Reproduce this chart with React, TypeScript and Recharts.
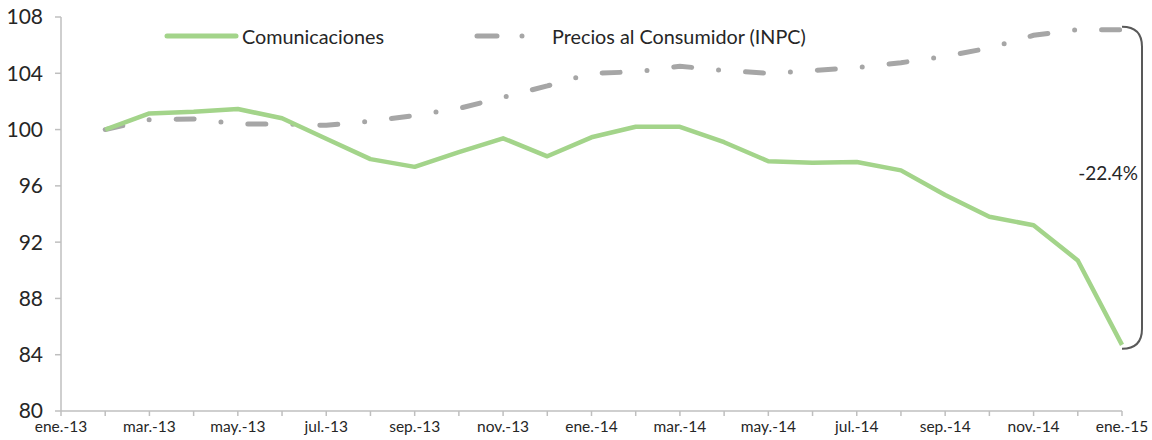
import React from 'react';
import { LineChart, Line, XAxis, YAxis, ReferenceLine } from 'recharts';

const months: string[] = [
  'ene.-13', 'feb.-13', 'mar.-13', 'abr.-13', 'may.-13', 'jun.-13', 'jul.-13', 'ago.-13', 'sep.-13', 'oct.-13', 'nov.-13', 'dic.-13',
  'ene.-14', 'feb.-14', 'mar.-14', 'abr.-14', 'may.-14', 'jun.-14', 'jul.-14', 'ago.-14', 'sep.-14', 'oct.-14', 'nov.-14', 'dic.-14',
  'ene.-15',
];

const comunicaciones: (number | null)[] = [
  null, 100.0, 101.15, 101.27, 101.46, 100.8, 99.35, 97.9, 97.35, 98.4, 99.38, 98.1,
  99.45, 100.2, 100.2, 99.1, 97.75, 97.65, 97.7, 97.1, 95.35, 93.8, 93.2, 90.7, 84.7,
];

const inpc: (number | null)[] = [
  null, 100.0, 100.7, 100.75, 100.4, 100.4, 100.3, 100.6, 101.0, 101.5, 102.3, 103.1,
  104.0, 104.1, 104.5, 104.2, 104.0, 104.2, 104.4, 104.75, 105.2, 105.8, 106.7, 107.1, 107.1,
];

const yTicks: number[] = [80, 84, 88, 92, 96, 100, 104, 108];
const seriesNames = ['Comunicaciones', 'Precios al Consumidor (INPC)'];
const changeLabel = '-22.4%';

const GREEN = '#A3D48A';
const GRAY = '#A6A6A6';
const AXIS = '#BFBFBF';
const TEXT = '#262626';
const FONT = 'Lato, "Open Sans", sans-serif';

const data = months.map((m, i) => ({ month: m, com: comunicaciones[i], inpc: inpc[i] }));
const lastIdx = months.length - 1;

const Bracket = (props: any) => {
  const { x1, y1, x2, y2 } = props;
  const x = Math.min(x1 ?? 0, x2 ?? 0);
  const top = Math.min(y1, y2) - 3;
  const bottom = Math.max(y1, y2) + 4;
  const r = 20;
  const d = `M${x},${top} Q${x + r},${top} ${x + r},${top + r} L${x + r},${bottom - r} Q${x + r},${bottom} ${x},${bottom}`;
  const mid = (top + bottom) / 2;
  return (
    <g>
      <path d={d} fill="none" stroke="#595959" strokeWidth={2} />
      <text x={x + 16} y={mid - 13} textAnchor="end" dominantBaseline="middle" fontFamily={FONT} fontSize={19} fill={TEXT}>
        {changeLabel}
      </text>
    </g>
  );
};

const LegendOverlay = () => (
  <svg width={1152} height={30} style={{ position: 'absolute', left: 0, top: 21, pointerEvents: 'none' }}>
    <line x1={167} y1={15} x2={236} y2={15} stroke={GREEN} strokeWidth={5} strokeLinecap="round" />
    <line x1={477} y1={15} x2={530} y2={15} stroke={GRAY} strokeWidth={5} strokeLinecap="round" strokeDasharray="20 25 0 100" />
    <text x={242} y={15} dominantBaseline="central" fontFamily={FONT} fontSize={19.8} fill={TEXT}>{seriesNames[0]}</text>
    <text x={552} y={15} dominantBaseline="central" fontFamily={FONT} fontSize={19.8} fill={TEXT}>{seriesNames[1]}</text>
  </svg>
);

export default function App() {
  return (
    <div style={{ position: 'absolute', left: 0, top: 0, width: 1152, height: 440, background: '#fff' }}>
      <LineChart width={1152} height={440} data={data} margin={{ top: 17, right: 30, bottom: 0, left: 0 }}>
        <XAxis
          dataKey="month"
          interval={0}
          tickFormatter={(v: string, i: number) => (i % 2 === 0 ? v : '')}
          axisLine={{ stroke: AXIS, strokeWidth: 1.5 }}
          tickLine={{ stroke: AXIS, strokeWidth: 1.5 }}
          tickSize={5}
          tickMargin={5}
          height={29}
          tick={{ fontFamily: FONT, fontSize: 15.5, fill: TEXT }}
        />
        <YAxis
          domain={[80, 108]}
          ticks={yTicks}
          interval={0}
          width={61}
          axisLine={{ stroke: AXIS, strokeWidth: 1.5 }}
          tickLine={{ stroke: AXIS, strokeWidth: 1.5 }}
          tickSize={6}
          tickMargin={12}
          tick={{ fontFamily: FONT, fontSize: 21, fill: TEXT }}
        />
        <Line
          dataKey="inpc"
          name={seriesNames[1]}
          stroke={GRAY}
          strokeWidth={5}
          strokeLinecap="round"
          strokeDasharray="18 27 0 27"
          dot={false}
          activeDot={false}
          isAnimationActive={false}
        />
        <Line
          dataKey="com"
          name={seriesNames[0]}
          stroke={GREEN}
          strokeWidth={4.5}
          strokeLinejoin="round"
          dot={false}
          activeDot={false}
          isAnimationActive={false}
        />
        <ReferenceLine
          segment={[
            { x: months[lastIdx], y: inpc[lastIdx] as number },
            { x: months[lastIdx], y: comunicaciones[lastIdx] as number },
          ]}
          ifOverflow="visible"
          shape={(p: any) => <Bracket {...p} />}
        />
      </LineChart>
      <LegendOverlay />
    </div>
  );
}
